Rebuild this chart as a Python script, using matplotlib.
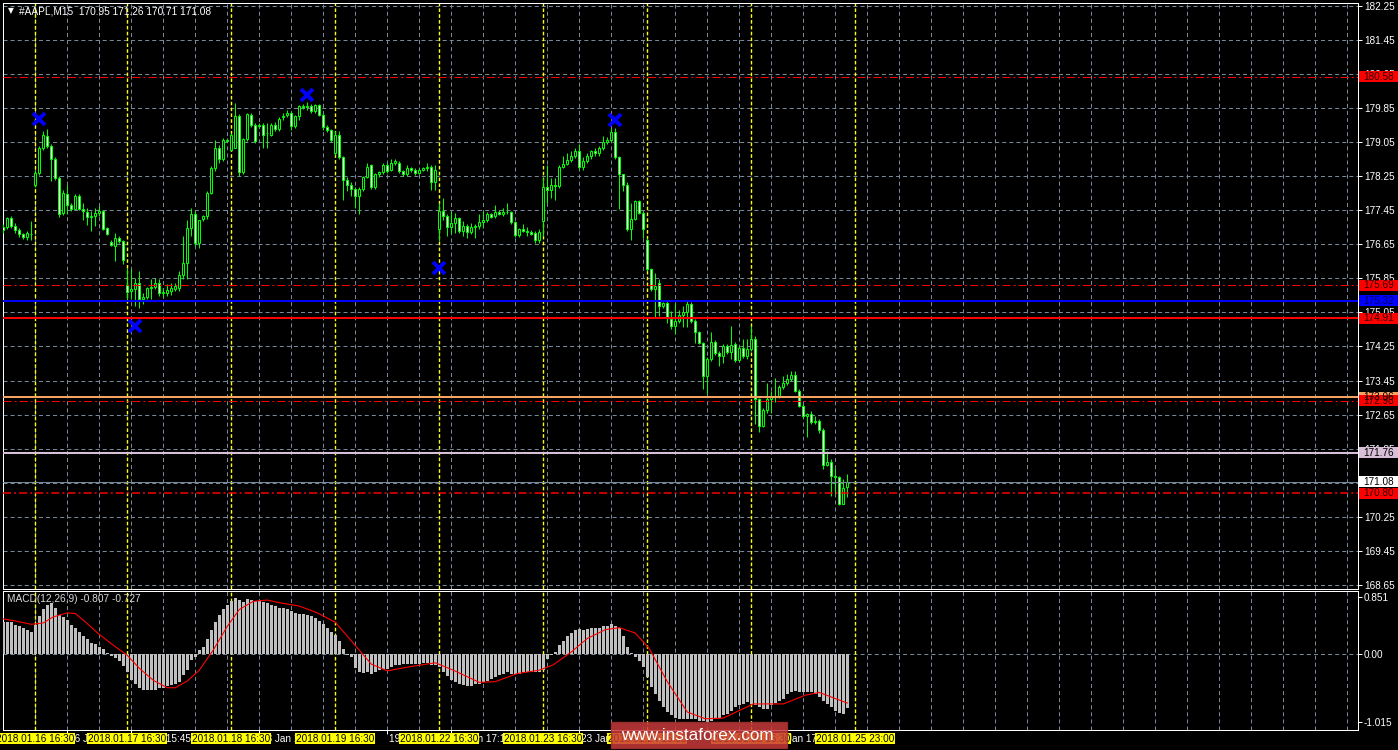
import numpy as np
import matplotlib.pyplot as plt
from matplotlib.patches import Rectangle
from matplotlib import transforms

plt.rcParams['font.family'] = ['Liberation Sans', 'DejaVu Sans']
plt.rcParams['lines.scale_dashes'] = False

# #AAPL M15 bars, oldest first
opens = [
    177.05, 177.06, 177.27, 177.08, 176.98, 176.88, 176.83, 176.90, 178.05, 178.32,
    178.91, 179.20, 178.95, 178.65, 178.21, 177.39, 177.84, 177.56, 177.48, 177.79,
    177.48, 177.40, 177.30, 177.31, 177.38, 177.43, 177.02, 176.70, 176.61, 176.79,
    176.73, 175.69, 175.55, 175.60, 175.75, 175.36, 175.42, 175.63, 175.65, 175.73,
    175.51, 175.51, 175.56, 175.60, 175.62, 175.92, 176.20, 177.04, 177.37, 176.68,
    177.25, 177.31, 177.86, 178.44, 178.91, 178.64, 179.10, 178.87, 178.91, 179.65,
    178.34, 179.12, 179.69, 179.46, 179.42, 179.45, 179.25, 179.22, 179.46, 179.36,
    179.64, 179.69, 179.73, 179.43, 179.65, 179.89, 179.88, 179.90, 179.78, 179.92,
    179.69, 179.40, 179.33, 178.80, 179.22, 178.70, 178.15, 178.05, 177.95, 177.79,
    177.95, 178.23, 178.50, 178.00, 178.29, 178.34, 178.50, 178.40, 178.56, 178.56,
    178.37, 178.30, 178.44, 178.39, 178.33, 178.40, 178.43, 178.46, 178.11, 177.00,
    177.43, 177.32, 177.06, 177.14, 177.27, 176.96, 177.09, 176.94, 177.06, 177.09,
    177.17, 177.22, 177.35, 177.31, 177.41, 177.37, 177.41, 177.40, 177.17, 176.87,
    177.01, 176.96, 176.94, 176.91, 176.75, 177.19, 178.00, 177.93, 178.05, 178.02,
    178.46, 178.54, 178.63, 178.71, 178.83, 178.46, 178.60, 178.71, 178.83, 178.79,
    178.91, 179.05, 179.10, 179.28, 178.70, 178.29, 178.05, 177.00, 177.25, 177.66,
    177.39, 176.76, 176.06, 175.59, 175.75, 175.20, 175.27, 174.89, 174.72, 174.85,
    175.00, 175.05, 175.24, 174.85, 174.59, 174.33, 173.56, 173.95, 174.36, 174.10,
    174.02, 174.25, 174.13, 174.30, 173.94, 174.22, 174.03, 174.19, 174.43, 173.01,
    172.39, 172.77, 173.01, 173.07, 173.09, 173.29, 173.39, 173.48, 173.58, 173.21,
    172.86, 172.61, 172.67, 172.47, 172.51, 172.30, 171.47, 171.53, 171.20, 171.18,
    170.56, 170.95,
]
highs = [
    177.12, 177.30, 177.32, 177.14, 177.02, 176.92, 176.95, 177.19, 178.40, 178.95,
    179.30, 179.35, 179.00, 178.70, 178.25, 177.92, 178.05, 177.62, 177.82, 177.84,
    177.62, 177.50, 177.42, 177.50, 177.54, 177.46, 177.06, 176.74, 176.92, 176.84,
    176.76, 176.10, 176.06, 175.86, 176.02, 175.51, 175.64, 175.83, 175.86, 175.83,
    175.63, 175.71, 175.75, 175.74, 176.02, 176.84, 177.23, 177.50, 177.42, 177.23,
    177.33, 177.90, 178.48, 179.10, 178.99, 179.14, 179.14, 179.26, 179.96, 179.70,
    179.14, 179.73, 179.73, 179.50, 179.50, 179.49, 179.50, 179.50, 179.52, 179.64,
    179.73, 179.80, 179.77, 179.68, 179.93, 179.95, 180.00, 179.95, 179.95, 179.95,
    179.74, 179.45, 179.36, 179.30, 179.32, 178.72, 178.22, 178.12, 178.00, 178.00,
    178.26, 178.56, 178.53, 178.32, 178.38, 178.55, 178.56, 178.64, 178.64, 178.60,
    178.40, 178.50, 178.47, 178.43, 178.45, 178.47, 178.56, 178.50, 178.52, 177.62,
    177.74, 177.35, 177.43, 177.39, 177.30, 177.19, 177.12, 177.15, 177.13, 177.35,
    177.43, 177.40, 177.39, 177.58, 177.45, 177.50, 177.62, 177.43, 177.19, 177.04,
    177.12, 177.06, 176.98, 176.95, 177.01, 178.21, 178.52, 178.21, 178.21, 178.50,
    178.71, 178.79, 178.83, 178.90, 179.01, 178.70, 178.79, 178.87, 178.90, 178.96,
    179.18, 179.17, 179.39, 179.38, 178.73, 178.31, 178.10, 177.62, 177.68, 177.70,
    177.42, 176.80, 176.10, 175.98, 175.83, 175.30, 175.32, 175.08, 175.28, 175.10,
    175.20, 175.32, 175.30, 174.90, 174.62, 174.36, 174.00, 174.58, 174.40, 174.15,
    174.30, 174.30, 174.72, 174.35, 174.26, 174.43, 174.42, 174.73, 174.50, 173.05,
    172.80, 173.40, 173.21, 173.52, 173.35, 173.56, 173.60, 173.68, 173.68, 173.25,
    172.90, 172.70, 172.74, 172.62, 172.55, 172.33, 171.80, 171.61, 171.39, 171.22,
    171.15, 171.26,
]
lows = [
    176.92, 177.00, 177.02, 176.92, 176.82, 176.78, 176.76, 176.76, 178.00, 178.28,
    178.87, 178.90, 178.13, 178.15, 177.30, 177.33, 177.35, 177.42, 177.45, 177.45,
    177.23, 177.11, 176.96, 177.07, 177.32, 176.98, 176.86, 176.60, 176.26, 176.68,
    176.18, 175.32, 175.36, 175.20, 175.16, 175.24, 175.36, 175.36, 175.59, 175.44,
    175.40, 175.44, 175.45, 175.55, 175.55, 175.83, 175.83, 176.84, 176.61, 176.57,
    177.20, 177.25, 177.82, 178.36, 178.56, 178.60, 179.04, 178.83, 178.91, 178.25,
    178.30, 179.08, 179.40, 179.02, 179.38, 178.91, 178.91, 179.18, 179.30, 179.30,
    179.57, 179.64, 179.34, 179.38, 179.57, 179.82, 179.80, 179.74, 179.74, 179.66,
    179.34, 179.28, 179.05, 178.75, 178.65, 177.70, 177.90, 177.79, 177.50, 177.35,
    177.90, 178.20, 177.95, 177.95, 178.24, 178.30, 178.33, 178.36, 178.51, 178.33,
    178.25, 178.26, 178.35, 178.28, 178.30, 178.36, 178.38, 177.93, 177.93, 176.72,
    177.23, 176.84, 176.92, 176.92, 176.92, 176.84, 176.80, 176.90, 176.80, 177.00,
    177.04, 177.18, 177.26, 177.27, 177.33, 177.32, 177.36, 177.13, 176.83, 176.83,
    176.94, 176.84, 176.86, 176.68, 176.68, 176.84, 177.62, 177.74, 177.70, 177.98,
    178.44, 178.50, 178.58, 178.68, 178.42, 178.40, 178.56, 178.66, 178.72, 178.73,
    178.87, 179.01, 179.06, 178.65, 177.47, 177.90, 176.97, 176.76, 177.22, 177.35,
    176.80, 176.02, 175.55, 174.93, 174.97, 175.15, 174.81, 174.65, 174.54, 174.80,
    174.70, 174.70, 174.80, 174.34, 174.30, 173.25, 173.13, 173.90, 174.05, 173.79,
    173.87, 174.08, 173.96, 173.89, 173.90, 173.99, 173.95, 174.15, 172.43, 172.24,
    172.35, 172.70, 172.70, 172.94, 173.05, 173.25, 173.35, 173.44, 173.17, 172.82,
    172.58, 172.12, 172.43, 172.43, 172.23, 171.38, 171.45, 170.74, 170.79, 170.52,
    170.55, 170.71,
]
closes = [
    176.98, 177.27, 177.08, 176.98, 176.88, 176.83, 176.92, 176.90, 178.32, 178.91,
    179.22, 178.95, 178.65, 178.21, 177.35, 177.86, 177.56, 177.47, 177.79, 177.48,
    177.43, 177.29, 177.32, 177.39, 177.43, 177.01, 176.90, 176.64, 176.80, 176.73,
    176.29, 175.52, 175.59, 175.73, 175.36, 175.42, 175.63, 175.65, 175.73, 175.51,
    175.52, 175.58, 175.63, 175.67, 175.92, 176.20, 177.04, 177.37, 176.68, 177.23,
    177.31, 177.86, 178.44, 178.91, 178.64, 179.10, 179.07, 179.22, 179.65, 178.34,
    179.12, 179.71, 179.46, 179.07, 179.45, 179.22, 179.26, 179.46, 179.36, 179.59,
    179.67, 179.73, 179.43, 179.65, 179.89, 179.86, 179.90, 179.78, 179.92, 179.69,
    179.40, 179.33, 179.10, 179.22, 178.70, 178.15, 178.05, 177.95, 177.79, 177.95,
    178.23, 178.46, 178.00, 178.29, 178.34, 178.50, 178.37, 178.56, 178.60, 178.37,
    178.30, 178.44, 178.39, 178.33, 178.40, 178.43, 178.46, 178.11, 178.40, 177.43,
    177.32, 177.06, 177.14, 177.27, 176.96, 177.09, 176.94, 177.06, 177.09, 177.17,
    177.22, 177.35, 177.30, 177.41, 177.37, 177.41, 177.40, 177.17, 176.87, 177.01,
    176.96, 176.94, 176.90, 176.75, 176.93, 178.00, 177.93, 178.05, 178.02, 178.46,
    178.54, 178.63, 178.71, 178.83, 178.46, 178.60, 178.71, 178.83, 178.79, 178.91,
    179.05, 179.10, 179.28, 178.70, 178.29, 178.05, 177.00, 177.25, 177.66, 177.39,
    177.00, 176.06, 175.59, 175.67, 175.20, 175.27, 174.93, 174.72, 174.85, 175.00,
    175.05, 175.24, 174.85, 174.59, 174.33, 173.56, 173.95, 174.36, 174.10, 174.02,
    174.25, 174.13, 174.28, 173.94, 174.22, 174.03, 174.19, 174.42, 173.01, 172.39,
    172.77, 173.01, 173.07, 173.09, 173.29, 173.39, 173.48, 173.58, 173.21, 172.86,
    172.61, 172.67, 172.47, 172.51, 172.30, 171.47, 171.53, 171.20, 171.18, 170.56,
    170.92, 171.08,
]

# MACD(12,26,9) main line, one value per bar
macd = [
    0.48, 0.48, 0.47, 0.43, 0.41, 0.38, 0.36, 0.33, 0.43, 0.56,
    0.67, 0.73, 0.75, 0.68, 0.58, 0.55, 0.50, 0.43, 0.38, 0.33,
    0.27, 0.22, 0.17, 0.15, 0.11, 0.07, 0.02, -0.03, -0.06, -0.11,
    -0.18, -0.26, -0.39, -0.44, -0.50, -0.54, -0.54, -0.54, -0.53, -0.51,
    -0.50, -0.48, -0.46, -0.44, -0.41, -0.31, -0.23, -0.09, -0.05, 0.06,
    0.11, 0.22, 0.36, 0.48, 0.58, 0.67, 0.73, 0.78, 0.83, 0.80,
    0.77, 0.81, 0.80, 0.78, 0.78, 0.77, 0.75, 0.72, 0.71, 0.68,
    0.68, 0.67, 0.63, 0.61, 0.60, 0.59, 0.58, 0.56, 0.53, 0.49,
    0.44, 0.39, 0.32, 0.28, 0.19, 0.07, -0.01, -0.04, -0.21, -0.26,
    -0.28, -0.27, -0.29, -0.26, -0.24, -0.22, -0.22, -0.19, -0.17, -0.16,
    -0.15, -0.15, -0.15, -0.15, -0.15, -0.14, -0.14, -0.16, -0.17, -0.19,
    -0.26, -0.32, -0.39, -0.41, -0.44, -0.46, -0.47, -0.47, -0.45, -0.44,
    -0.42, -0.40, -0.37, -0.34, -0.31, -0.29, -0.27, -0.29, -0.30, -0.30,
    -0.27, -0.27, -0.26, -0.26, -0.27, -0.24, -0.07, -0.02, 0.03, 0.13,
    0.19, 0.26, 0.31, 0.36, 0.37, 0.36, 0.37, 0.38, 0.38, 0.39,
    0.41, 0.42, 0.44, 0.41, 0.38, 0.26, 0.11, 0.01, -0.05, -0.11,
    -0.19, -0.34, -0.49, -0.59, -0.69, -0.79, -0.86, -0.91, -0.95, -0.96,
    -0.97, -0.97, -0.97, -0.97, -0.99, -0.99, -1.015, -1.00, -0.96, -0.95,
    -0.91, -0.89, -0.84, -0.79, -0.75, -0.74, -0.71, -0.74, -0.76, -0.79,
    -0.81, -0.81, -0.76, -0.72, -0.69, -0.66, -0.59, -0.57, -0.55, -0.56,
    -0.57, -0.57, -0.57, -0.60, -0.64, -0.70, -0.74, -0.79, -0.84, -0.87,
    -0.89, -0.807,
]

# signal line read at these bar positions
signal_bar = [0, 3, 7, 10, 12.5, 16, 18, 21, 24, 27.5, 31, 34, 37.5, 41, 43, 46, 49,
              52.5, 56, 59, 62.5, 66, 69, 74, 78.5, 83, 87.5, 92, 96, 101.5, 108,
              112.5, 119, 123, 128.5, 134, 137.5, 142, 146, 150.5, 154, 158, 161.5,
              166, 171, 175.5, 180, 187.5, 195, 200.5, 204, 208, 211]
signal_val = [0.52, 0.49, 0.44, 0.46, 0.55, 0.61, 0.60, 0.45, 0.29, 0.13, -0.02, -0.21,
              -0.39, -0.50, -0.50, -0.40, -0.24, 0.06, 0.41, 0.66, 0.78, 0.80, 0.76,
              0.71, 0.61, 0.47, 0.16, -0.15, -0.25, -0.19, -0.13, -0.24, -0.42, -0.41,
              -0.29, -0.24, -0.16, 0.03, 0.23, 0.36, 0.39, 0.31, 0.08, -0.41, -0.86,
              -0.96, -0.95, -0.74, -0.74, -0.61, -0.57, -0.66, -0.727]

# fractal marks
frac_bar = [9, 33, 76, 109, 153]
frac_price = [179.59, 174.73, 180.15, 176.09, 179.57]

# horizontal levels: price, colour, width, style
levels = [
    (180.58, '#ff0000', 1.0, 'dashdot'),
    (175.69, '#ff0000', 1.0, 'dashdot'),
    (175.32, '#0000ff', 2.0, 'solid'),
    (174.91, '#ff0000', 2.0, 'solid'),
    (173.06, '#f4a460', 2.0, 'solid'),
    (172.98, '#ff0000', 1.0, 'dashdot'),
    (171.76, '#d8bfd8', 2.0, 'solid'),
    (171.08, '#778899', 1.0, 'solid'),
    (170.80, '#ff0000', 1.5, 'dashdot'),
]
# price boxes on the scale: price, background, text colour
price_tags = [
    (180.58, '#ff0000', '#300000'),
    (175.69, '#ff0000', '#300000'),
    (175.32, '#0000ff', '#000060'),
    (174.91, '#ff0000', '#300000'),
    (173.06, '#f4a460', '#000000'),
    (172.98, '#ff0000', '#300000'),
    (171.76, '#d8bfd8', '#000000'),
    (171.08, '#ffffff', '#000000'),
    (170.80, '#ff0000', '#300000'),
]

# day separators and their labels
sep_bars = [8, 31, 57, 83, 109, 135, 161, 187, 213]
sep_labels = ['2018.01.16 16:30', '2018.01.17 16:30', '2018.01.18 16:30',
              '2018.01.19 16:30', '2018.01.22 16:30', '2018.01.23 16:30',
              '2018.01.24 16:30', '2018.01.25 16:30', '2018.01.25 23:00']
time_bars = [16, 32, 64, 96, 112, 144, 192]
time_labels = ['16 Jan 18:30', '17 Jan 15:45', '18 Jan 18:15', '19 Jan 19:45',
               '22 Jan 17:15', '23 Jan 18:45', '25 Jan 17:45']

W, H = 1398, 750
GRID = '#778899'
LIME = '#00ff00'
dash_grid = (0, (2.9, 2.2))
dash_sep = (0, (2.6, 1.6))
dash_dot = (0, (5.8, 2.2, 1.4, 2.2))

fig = plt.figure(figsize=(W / 100, H / 100), dpi=100, facecolor='black')
ax = fig.add_axes([3 / W, (H - 588.5) / H, 1355 / W, 585.5 / H], facecolor='black')
ax2 = fig.add_axes([3 / W, (H - 729.5) / H, 1355 / W, 139 / H], facecolor='black')

x = np.arange(len(closes))
o = np.array(opens)
c = np.array(closes)
body_fc = np.where(c >= o, 'black', 'white')

ax.vlines(x, lows, highs, color=LIME, lw=0.72, zorder=3)
ax.bar(x, c - o, bottom=o, width=0.5, color=body_fc, edgecolor=LIME,
       linewidth=0.72, zorder=4)
ax.plot(frac_bar, frac_price, 'x', color='#0000ff', ms=8, mew=2.8, zorder=6)

ticks = [168.65 + 0.8 * k for k in range(18)]
for t in ticks:
    ax.axhline(t, color=GRID, lw=0.72, ls=dash_grid, zorder=1)
for xb in range(8, 340, 8):
    ax.axvline(xb, color=GRID, lw=0.72, ls=dash_grid, zorder=1)
    ax2.axvline(xb, color=GRID, lw=0.72, ls=dash_grid, zorder=1)
for xb in sep_bars:
    ax.axvline(xb, color='#ffff00', lw=1.0, ls=dash_sep, zorder=2)
    ax2.axvline(xb, color='#ffff00', lw=1.0, ls=dash_sep, zorder=2)

for p, col, lw, style in levels:
    ls = dash_dot if style == 'dashdot' else '-'
    ax.axhline(p, color=col, lw=lw * 0.72, ls=ls, zorder=5)

ax.set_xlim(-0.075, 338.675)
ax.set_ylim(168.569, 182.313)
ax.set_xticks([])
ax.yaxis.tick_right()
ax.set_yticks(ticks)
ax.set_yticklabels(['%.2f' % t for t in ticks])
ax.tick_params(axis='y', colors='white', labelcolor='white', length=3, width=0.72,
               pad=1.2, labelsize=7.2)

# price tags drawn over the scale
tag_tr = transforms.blended_transform_factory(fig.transFigure, ax.transData)
for p, bg, fg in price_tags:
    ax.add_patch(Rectangle((1359 / W, p - 0.13), 39 / W, 0.26, transform=tag_tr,
                           facecolor=bg, edgecolor='none', clip_on=False, zorder=7))
    ax.text(1363.5 / W, p, '%.2f' % p, transform=tag_tr, color=fg, fontsize=7.2,
            va='center', ha='left', clip_on=False, zorder=8)

for sp in ax.spines.values():
    sp.set_color('white')
    sp.set_linewidth(0.72)

ax.text(8 / 1355, 1 - 8 / 585.5, '\u25bc', transform=ax.transAxes, color='white',
        fontsize=5.5, va='center', ha='center', family=['DejaVu Sans'])
ax.text(16 / 1355, 1 - 8 / 585.5, '#AAPL,M15  170.95 171.26 170.71 171.08',
        transform=ax.transAxes, color='white', fontsize=7.3, va='center', ha='left')

# MACD panel
ax2.bar(x, macd, width=0.72, color='#c0c0c0', zorder=3)
ax2.plot(signal_bar, signal_val, color='#ff0000', lw=0.8, zorder=4)
ax2.axhline(0, color=GRID, lw=0.72, ls=dash_grid, zorder=1)
ax2.set_xlim(-0.075, 338.675)
ax2.set_ylim(-1.119, 0.941)
ax2.yaxis.tick_right()
ax2.set_yticks([-1.015, 0.0, 0.851])
ax2.set_yticklabels(['-1.015', '0.00', '0.851'])
ax2.tick_params(axis='y', colors='white', labelcolor='white', length=3, width=0.72,
                pad=1.2, labelsize=7.2)
ax2.set_xticks(time_bars)
ax2.tick_params(axis='x', colors='white', length=3, width=0.72, labelbottom=False)
for sp in ax2.spines.values():
    sp.set_color('white')
    sp.set_linewidth(0.72)
ax2.text(4 / 1355, 1 - 9 / 139, 'MACD(12,26,9) -0.807 -0.727', transform=ax2.transAxes,
         color='#d8d8d8', fontsize=7.3, va='center', ha='left')

for xb, lab in zip(time_bars, time_labels):
    ax2.annotate(lab, xy=(xb, 0), xycoords=('data', 'axes fraction'), xytext=(1.5, -9),
                 textcoords='offset pixels', ha='left', va='center', color='white',
                 fontsize=7.2, annotation_clip=False, zorder=5)
for xb, lab in zip(sep_bars, sep_labels):
    ax2.annotate(lab, xy=(xb, 0), xycoords=('data', 'axes fraction'), xytext=(0, -9),
                 textcoords='offset pixels', ha='center', va='center', color='black',
                 fontsize=7.2, annotation_clip=False, zorder=6,
                 bbox=dict(boxstyle='square,pad=0.08', fc='#ffff00', ec='none'))

# site watermark
fig.patches.append(Rectangle((611 / W, 2 / H), 176 / W, 26 / H, transform=fig.transFigure,
                             facecolor='#c83a3a', alpha=0.85, edgecolor='#a03030',
                             zorder=10))
fig.text(697 / W, (H - 735.5) / H, 'www.instaforex.com', color='white', fontsize=12.3,
         ha='center', va='center', zorder=11)

fig.savefig('out.png', dpi=100, facecolor='black')
